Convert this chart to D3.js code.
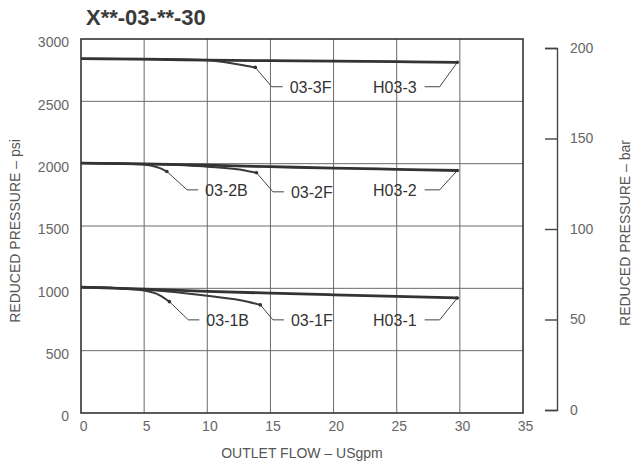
<!DOCTYPE html>
<html>
<head>
<meta charset="utf-8">
<script src="https://d3js.org/d3.v7.min.js"></script>
<style>
  body { margin: 0; background: #fff; }
  svg { font-family: "Liberation Sans", Arial, sans-serif; }
</style>
</head>
<body>
<div id="chart"></div>
<script>
// Axis ticks
const flowTicks = [0, 5, 10, 15, 20, 25, 30, 35];
const psiTicks = [0, 500, 1000, 1500, 2000, 2500, 3000];
const barTicks = [0, 50, 100, 150, 200];

// Curves: [flow USgpm, pressure psi]
const h03_3 = [[0, 2842], [5, 2838], [10, 2831], [15, 2826], [20, 2822], [25, 2818], [29.8, 2813]];
const f03_3 = [[0, 2842], [5, 2838], [10, 2830], [12.5, 2795], [13.8, 2772]];
const h03_2 = [[0, 2005], [5, 1998], [10, 1988], [15, 1976], [20, 1964], [25, 1955], [29.8, 1945]];
const b03_2 = [[0, 2005], [4, 1998], [5.5, 1985], [6.3, 1962], [6.8, 1937]];
const f03_2 = [[0, 2005], [5, 1997], [10, 1976], [13, 1946], [13.9, 1927]];
const h03_1 = [[0, 1010], [5, 993], [10, 976], [15, 961], [20, 948], [25, 935], [29.8, 923]];
const b03_1 = [[0, 1010], [3, 1000], [5, 982], [6.2, 946], [7, 893]];
const f03_1 = [[0, 1010], [5, 990], [10, 940], [13.2, 893], [14.2, 867]];

// Callout elbows [flow, psi] and which side the text sits on
const callouts = [
    {name: "03-3F", curve: f03_3, elbow: [15.1, 2617], side: "right"},
    {name: "H03-3", curve: h03_3, elbow: [28.4, 2617], side: "left"},
    {name: "03-2B", curve: b03_2, elbow: [8.4, 1790], side: "right"},
    {name: "03-2F", curve: f03_2, elbow: [15.2, 1774], side: "right"},
    {name: "H03-2", curve: h03_2, elbow: [28.4, 1790], side: "left"},
    {name: "03-1B", curve: b03_1, elbow: [8.5, 747], side: "right"},
    {name: "03-1F", curve: f03_1, elbow: [15.2, 747], side: "right"},
    {name: "H03-1", curve: h03_1, elbow: [28.4, 747], side: "left"}
];

const mainCurves = [h03_3, h03_2, h03_1];
const sideCurves = [f03_3, b03_2, f03_2, b03_1, f03_1];

const W = 632, H = 464;
const plot = {left: 81, right: 523, top: 39, bottom: 413};

const svg = d3.select("#chart").append("svg")
    .attr("width", W)
    .attr("height", H);

const x = d3.scaleLinear().domain([0, 35]).range([plot.left, plot.right]);
const y = d3.scaleLinear().domain([0, 3000]).range([plot.bottom, plot.top]);
const yBar = d3.scaleLinear().domain([0, 200]).range([410, 48]);

// Grid
svg.append("g")
    .selectAll("line.vgrid")
    .data(flowTicks.slice(1, -1))
    .join("line")
    .attr("x1", d => x(d)).attr("x2", d => x(d))
    .attr("y1", plot.top).attr("y2", plot.bottom)
    .attr("stroke", "#6a6a6a")
    .attr("stroke-width", 1);

svg.append("g")
    .selectAll("line.hgrid")
    .data(psiTicks.slice(1, -1))
    .join("line")
    .attr("x1", plot.left).attr("x2", plot.right)
    .attr("y1", d => y(d)).attr("y2", d => y(d))
    .attr("stroke", "#6a6a6a")
    .attr("stroke-width", 1);

// Frame
svg.append("rect")
    .attr("x", plot.left).attr("y", plot.top)
    .attr("width", plot.right - plot.left)
    .attr("height", plot.bottom - plot.top)
    .attr("fill", "none")
    .attr("stroke", "#333")
    .attr("stroke-width", 1.6);

// Left axis (psi)
const yAxis = svg.append("g")
    .attr("transform", "translate(" + plot.left + ",0)")
    .call(d3.axisLeft(y).tickValues(psiTicks).tickFormat(d3.format("d")).tickSize(0).tickPadding(12));
yAxis.select(".domain").remove();
yAxis.selectAll("text")
    .attr("dy", "0.55em")
    .style("font-size", "14px")
    .attr("fill", "#666");

// Bottom axis (flow)
const xAxis = svg.append("g")
    .attr("transform", "translate(0," + plot.bottom + ")")
    .call(d3.axisBottom(x).tickValues(flowTicks).tickSize(0).tickPadding(8));
xAxis.select(".domain").remove();
xAxis.selectAll("text")
    .attr("dx", "0.15em")
    .style("font-size", "14px")
    .attr("fill", "#666");

// Right axis (bar), detached bracket
const barAxis = svg.append("g")
    .attr("transform", "translate(557,0)")
    .call(d3.axisRight(yBar).tickValues(barTicks).tickSizeInner(-12).tickSizeOuter(-12).tickPadding(13));
barAxis.selectAll("path, line")
    .attr("stroke", "#444")
    .attr("stroke-width", 1.4);
barAxis.selectAll("text")
    .style("font-size", "14px")
    .attr("fill", "#666");

// Curves
const line = d3.line()
    .x(d => x(d[0]))
    .y(d => y(d[1]))
    .curve(d3.curveMonotoneX);

svg.append("g")
    .selectAll("path")
    .data(sideCurves)
    .join("path")
    .attr("d", line)
    .attr("fill", "none")
    .attr("stroke", "#3a3a3a")
    .attr("stroke-width", 2);

svg.append("g")
    .selectAll("path")
    .data(mainCurves)
    .join("path")
    .attr("d", line)
    .attr("fill", "none")
    .attr("stroke", "#333")
    .attr("stroke-width", 2.8);

// Callouts
const co = svg.append("g")
    .selectAll("g")
    .data(callouts)
    .join("g");

co.append("path")
    .attr("d", d => {
        const end = d.curve[d.curve.length - 1];
        const ex = x(d.elbow[0]), ey = y(d.elbow[1]);
        const tail = d.side === "right" ? ex + 11 : ex - 15;
        return "M" + x(end[0]) + "," + y(end[1]) + "L" + ex + "," + ey + "H" + tail;
    })
    .attr("fill", "none")
    .attr("stroke", "#444")
    .attr("stroke-width", 1);

co.append("circle")
    .attr("cx", d => x(d.curve[d.curve.length - 1][0]))
    .attr("cy", d => y(d.curve[d.curve.length - 1][1]))
    .attr("r", 1.8)
    .attr("fill", "#333");

co.append("text")
    .attr("x", d => d.side === "right" ? x(d.elbow[0]) + 18 : x(d.elbow[0]) - 23)
    .attr("y", d => y(d.elbow[1]) + 6)
    .attr("text-anchor", d => d.side === "right" ? "start" : "end")
    .style("font-size", "16px")
    .attr("fill", "#333")
    .text(d => d.name);

// Title
svg.append("text")
    .attr("x", 86)
    .attr("y", 25)
    .style("font-size", "22px")
    .style("font-weight", "bold")
    .attr("fill", "#3a3a3a")
    .text("X**-03-**-30");

// Axis titles
svg.append("text")
    .attr("x", (plot.left + plot.right) / 2)
    .attr("y", 458)
    .attr("text-anchor", "middle")
    .style("font-size", "14px")
    .attr("fill", "#555")
    .text("OUTLET FLOW – USgpm");

svg.append("text")
    .attr("transform", "translate(20,231) rotate(-90)")
    .attr("text-anchor", "middle")
    .style("font-size", "14px")
    .attr("fill", "#555")
    .text("REDUCED PRESSURE – psi");

svg.append("text")
    .attr("transform", "translate(630,233) rotate(-90)")
    .attr("text-anchor", "middle")
    .style("font-size", "14px")
    .attr("fill", "#555")
    .text("REDUCED PRESSURE – bar");
</script>
</body>
</html>
